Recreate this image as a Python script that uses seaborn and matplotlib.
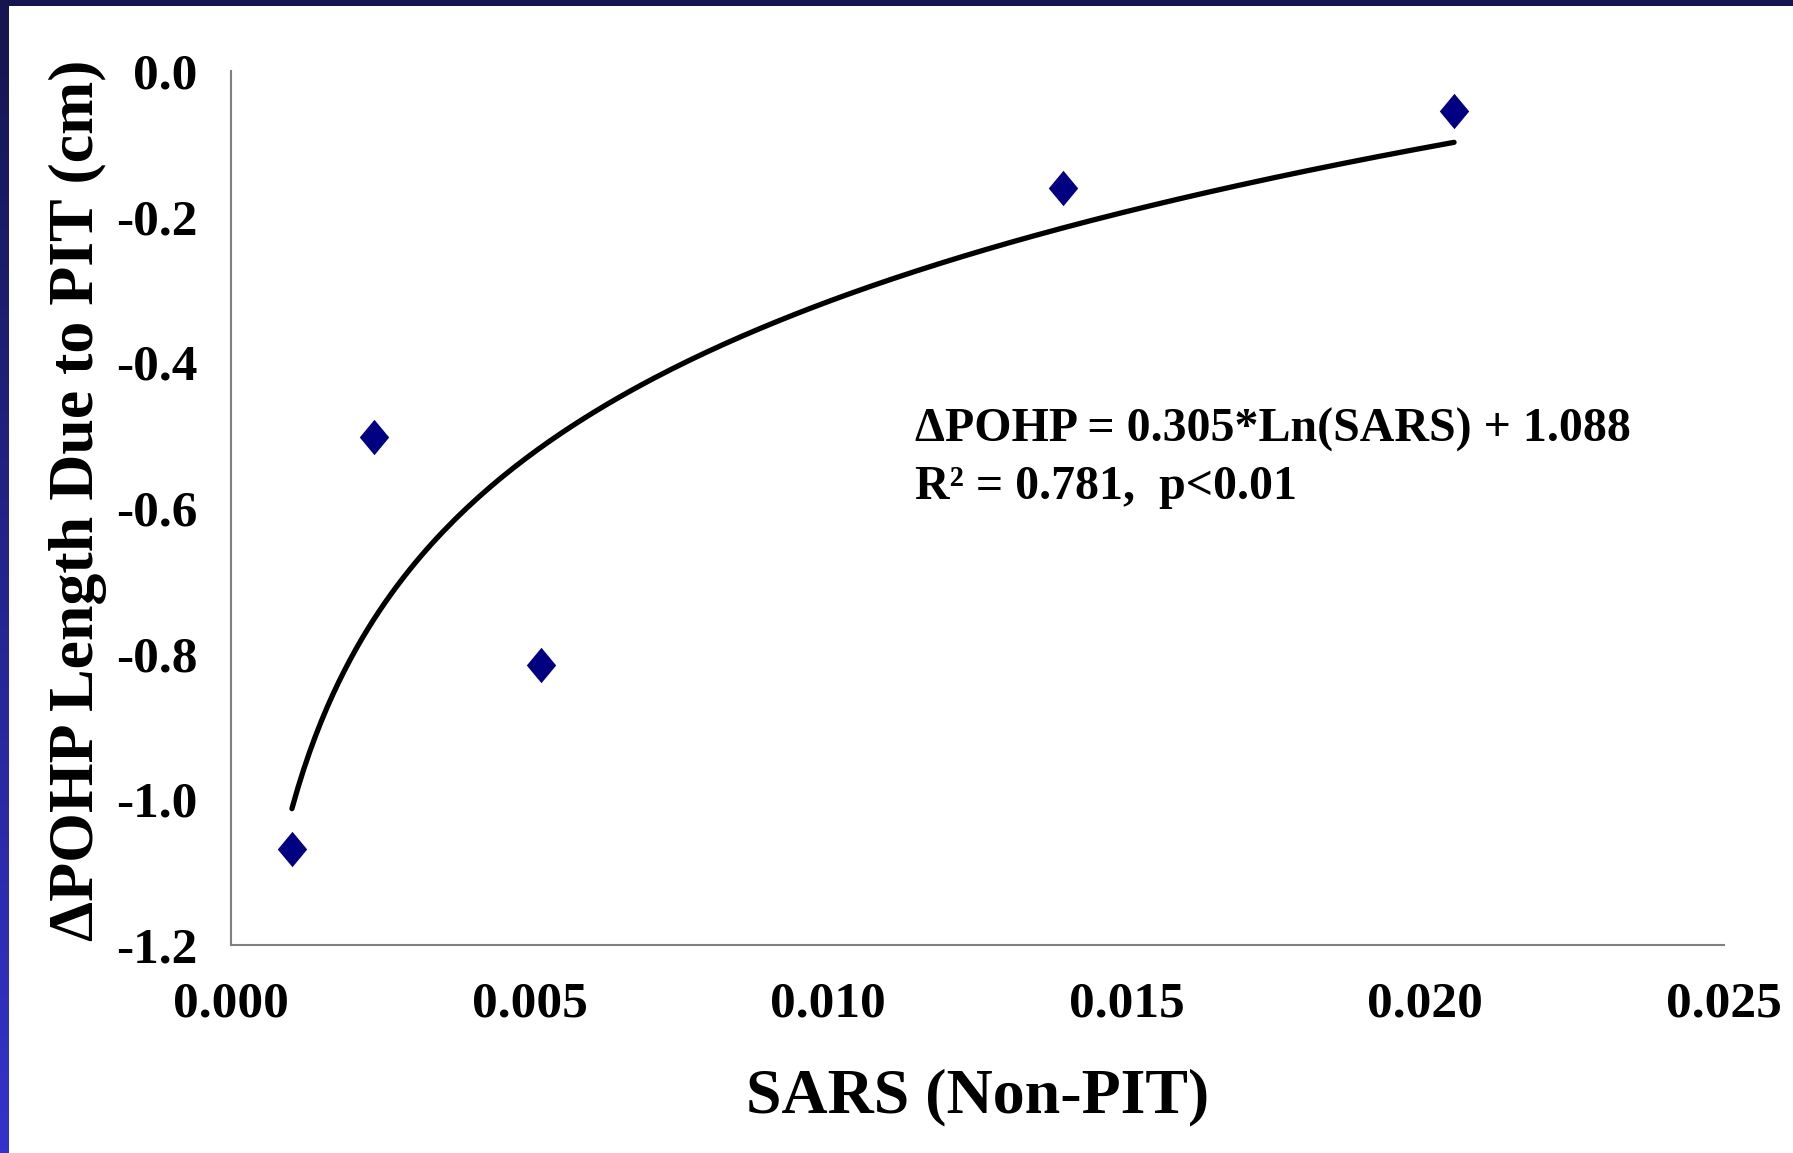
import numpy as np
import pandas as pd
import matplotlib
matplotlib.use("Agg")
import matplotlib.pyplot as plt
from matplotlib.path import Path
import seaborn as sns

# ---- data ----
sars = [0.00102, 0.00239, 0.00519, 0.01394, 0.02048]
delta_pohp = [-1.068, -0.502, -0.816, -0.160, -0.055]
fit_a = 0.305   # coefficient from chart text
fit_b = 1.088   # intercept from chart text
x_ticks = [0.000, 0.005, 0.010, 0.015, 0.020, 0.025]
x_tick_labels = ["0.000", "0.005", "0.010", "0.015", "0.020", "0.025"]
y_ticks = [0.0, -0.2, -0.4, -0.6, -0.8, -1.0, -1.2]
y_tick_labels = ["0.0", "-0.2", "-0.4", "-0.6", "-0.8", "-1.0", "-1.2"]
eq_line1 = "ΔPOHP = 0.305*Ln(SARS) + 1.088"
eq_line2 = "R² = 0.781,  p<0.01"
x_label = "SARS (Non-PIT)"
y_label = "ΔPOHP Length Due to PIT (cm)"

df = pd.DataFrame({"SARS": sars, "dPOHP": delta_pohp})
fit_x = np.linspace(min(sars), max(sars), 200)
fit_df = pd.DataFrame({"SARS": fit_x, "dPOHP": fit_a * np.log(fit_x) + fit_b})

sns.set_theme(style="white")
plt.rcParams["font.family"] = ["Liberation Serif", "DejaVu Serif"]
plt.rcParams["font.weight"] = "bold"
plt.rcParams["text.color"] = "black"
plt.rcParams["axes.labelcolor"] = "black"

W, H = 1793, 1153
fig = plt.figure(figsize=(W / 100, H / 100), dpi=100)
fig.patch.set_facecolor("white")

# decorative frame: top band and left gradient band
top = fig.add_axes([0, 1 - 6 / H, 1, 6 / H])
top.set_facecolor("#15154f")
top.set_xticks([]); top.set_yticks([])
for s in top.spines.values():
    s.set_visible(False)
left = fig.add_axes([0, 0, 9 / W, 1])
grad = np.linspace(0, 1, 256).reshape(-1, 1)
c_top = np.array([0x15, 0x15, 0x4f]) / 255
c_bot = np.array([0x33, 0x33, 0xcc]) / 255
img = c_top[None, None, :] * (1 - grad[:, :, None]) + c_bot[None, None, :] * grad[:, :, None]
left.imshow(img, aspect="auto", extent=[0, 1, 0, 1], origin="upper")
left.set_xticks([]); left.set_yticks([])
for s in left.spines.values():
    s.set_visible(False)

ax = fig.add_axes([231 / W, 1 - 945 / H, (1724 - 231) / W, (945 - 71) / H])
ax.set_facecolor("white")

sns.lineplot(data=fit_df, x="SARS", y="dPOHP", ax=ax, color="black", linewidth=3.8, zorder=2)

diamond = Path([(0, 1), (0.83, 0), (0, -1), (-0.83, 0), (0, 1)],
               [Path.MOVETO, Path.LINETO, Path.LINETO, Path.LINETO, Path.CLOSEPOLY])
sns.scatterplot(data=df, x="SARS", y="dPOHP", ax=ax, marker=diamond, s=650,
                color="#000080", edgecolor="#000080", linewidth=0, zorder=3)

ax.set_xlim(0, 0.025)
ax.set_ylim(-1.2, 0.0)
ax.set_xticks(x_ticks)
ax.set_xticklabels(x_tick_labels, fontsize=37, fontweight="bold")
ax.set_yticks(y_ticks)
ax.set_yticklabels(y_tick_labels, fontsize=37, fontweight="bold")
ax.tick_params(axis="both", direction="out", length=9, width=1.2, color="#808080",
               labelcolor="black")
ax.tick_params(axis="x", pad=17)
ax.tick_params(axis="y", pad=15)
for side in ["top", "right"]:
    ax.spines[side].set_visible(False)
for side in ["left", "bottom"]:
    ax.spines[side].set_color("#808080")
    ax.spines[side].set_linewidth(1.5)

ax.set_xlabel(x_label, fontsize=46, fontweight="bold", labelpad=30, color="black")
ax.set_ylabel(y_label, fontsize=46, fontweight="bold", color="black")
ax.yaxis.set_label_coords(-0.083, 0.509)

ax.text(0.458, 0.576, eq_line1, transform=ax.transAxes, fontsize=34.5,
        fontweight="bold", ha="left", va="baseline", color="black")
ax.text(0.458, 0.51, eq_line2, transform=ax.transAxes, fontsize=34.5,
        fontweight="bold", ha="left", va="baseline", color="black")

fig.savefig("out.png", dpi=100, facecolor="white")
